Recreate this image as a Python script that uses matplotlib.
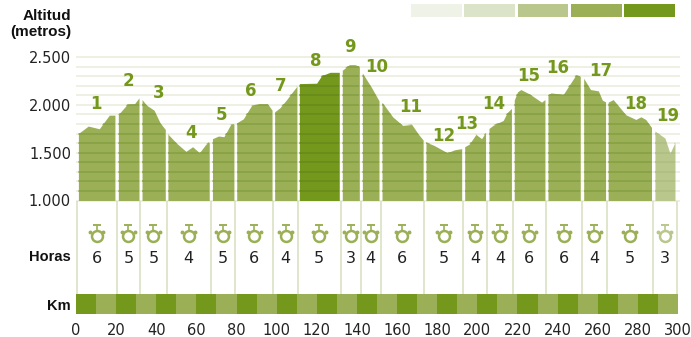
import matplotlib

matplotlib.use("Agg")
import matplotlib.pyplot as plt

plt.rcParams["font.family"] = ["DejaVu Sans"]

W, H = 691, 337
DARK, MID, LIGHT = "#73981b", "#9bb056", "#b9c78d"
GRID = "#e9ecdb"
LABEL_FONT = ["Liberation Sans", "DejaVu Sans"]

# km / altitude per stage
stage_km = [
    [1.2, 6.1, 11.6, 16.6, 19.4],
    [21.1, 25.6, 29.1, 31.4],
    [32.9, 35.2, 38.9, 41.9, 44.5],
    [45.8, 50.2, 54.8, 58.1, 61.5, 64.8, 66.4],
    [68, 71, 73.7, 77.1, 78.7],
    [80.1, 83.4, 87.5, 91.7, 95.5, 97.7],
    [99, 101.6, 105, 107.5, 110.1],
    [111.3, 119.9, 122.4, 126.6, 131.2],
    [132.7, 136.2, 139, 141.2],
    [142.7, 147.3, 151],
    [152.5, 157.8, 162.8, 167.3, 170.6, 173],
    [174.4, 178.4, 185, 188.8, 192.2],
    [193.7, 196, 199.3, 202.1, 204.1],
    [205.8, 208, 212.9, 214.9, 217],
    [218.4, 220, 221.7, 226.2, 232, 233.7],
    [235.2, 236.7, 242.8, 249.1, 251.3],
    [253, 256.4, 260.3, 262.3, 263.9],
    [265.2, 267.7, 274, 279, 281.5, 283.9, 286.8],
    [288.5, 293.5, 296, 298.5],
]
stage_alt = [
    [1701, 1778, 1750, 1892, 1892],
    [1899, 2007, 2010, 2073],
    [2055, 1996, 1944, 1812, 1743],
    [1694, 1597, 1514, 1562, 1500, 1590, 1611],
    [1646, 1674, 1667, 1795, 1799],
    [1812, 1854, 1993, 2010, 2010, 1944],
    [1927, 1969, 2055, 2125, 2194],
    [2222, 2226, 2305, 2340, 2340],
    [2361, 2420, 2420, 2403],
    [2333, 2180, 2042],
    [2028, 1875, 1785, 1795, 1694, 1632],
    [1611, 1576, 1500, 1531, 1542],
    [1562, 1590, 1691, 1646, 1712],
    [1753, 1788, 1837, 1920, 1962],
    [2049, 2135, 2160, 2111, 2028, 2055],
    [2101, 2125, 2108, 2312, 2299],
    [2278, 2160, 2146, 2049, 2031],
    [2028, 2055, 1896, 1847, 1875, 1847, 1764],
    [1726, 1653, 1493, 1608],
]
stage_level = [3, 3, 3, 3, 3, 3, 3, 4, 3, 3, 3, 3, 3, 3, 3, 3, 3, 3, 2]
stage_hours = [6, 5, 5, 4, 5, 6, 4, 5, 3, 4, 6, 5, 4, 4, 6, 6, 4, 5, 3]
stage_bounds = [0.5, 20.3, 32, 45.2, 67.1, 79.2, 98.3, 110.6, 131.9, 142, 151.8,
                173.5, 192.8, 204.9, 217.6, 234.3, 252.1, 264.4, 287.3, 299.3]
label_km = [10, 26, 41, 57.3, 72.3, 87.2, 102.1, 119.6, 136.5, 150, 166.9, 183.3,
            194.8, 208.3, 225.7, 240.2, 261.6, 279, 295]
label_alt = [2010, 2250, 2124, 1706, 1894, 2145, 2198, 2459, 2606, 2396, 1978, 1675,
             1800, 2009, 2302, 2386, 2355, 2004, 1884]
alt_ticks = [1000, 1500, 2000, 2500]
alt_labels = ["1.000", "1.500", "2.000", "2.500"]
km_ticks = list(range(0, 301, 20))
level_colors = ["#eff2e6", "#dbe3c8", LIGHT, MID, DARK]
over_colors = {2: "#aebd80", 3: "#86a043", 4: "#68891a"}


def px_axes(fig, left, top, right, bottom):
    return fig.add_axes([left / W, 1 - bottom / H, (right - left) / W, (bottom - top) / H])


fig = plt.figure(figsize=(W / 100, H / 100), dpi=100)

# altitude panel
ax = px_axes(fig, 76, 57, 678, 200.5)
ax.set_xlim(0, 300)
ax.set_ylim(1000, 2500)
grid_levels = list(range(1000, 2501, 100))
ax.hlines(grid_levels, 0, 301, color=GRID, lw=1.1, zorder=1, clip_on=False)
for km, alt, level in zip(stage_km, stage_alt, stage_level):
    poly = ax.fill_between(km, 1000, alt, color=level_colors[level], lw=0, zorder=2)
    over = ax.hlines(grid_levels[1:], km[0], km[-1], color=over_colors[level], lw=1.1, zorder=3)
    over.set_clip_path(poly.get_paths()[0], ax.transData)
for i, (x, y) in enumerate(zip(label_km, label_alt)):
    ax.text(x, y, str(i + 1), color=DARK, fontsize=12, fontweight="bold",
            ha="center", va="center", clip_on=False, zorder=5)
ax.set_xticks([])
ax.set_yticks(alt_ticks, alt_labels, fontsize=10.5, color="#222222")
ax.tick_params(axis="y", length=0, pad=3.6)
for s in ax.spines.values():
    s.set_visible(False)
ax.patch.set_alpha(0)

# hours panel
ax_h = px_axes(fig, 76, 200.5, 678, 294)
ax_h.set_xlim(0, 300)
ax_h.set_ylim(0, 1)
ax_h.vlines(stage_bounds, 0, 1, color="#d6dfbd", lw=1.1)
for i, hours in enumerate(stage_hours):
    x = (stage_bounds[i] + stage_bounds[i + 1]) / 2
    color = LIGHT if stage_level[i] == 2 else MID
    ax_h.scatter([x], [0.62], s=62, marker="o", facecolor="white", edgecolor=color, linewidth=1.8, zorder=3)
    ax_h.plot([x, x], [0.66, 0.73], color=color, lw=1.2, zorder=2)
    ax_h.plot([x], [0.735], marker="_", ms=6, mew=1.4, color=color, zorder=3)
    ax_h.plot([x - 3.2, x + 3.2], [0.665, 0.665], ls="none", marker="o", ms=1.8, color=color, zorder=2)
    ax_h.text(x, 0.385, str(hours), fontsize=11.5, color="#222222", ha="center", va="center")
ax_h.text(-2.5, 0.395, "Horas", fontsize=10.5, fontweight="bold", ha="right", va="center",
          color="#111111", family=LABEL_FONT)
ax_h.axis("off")

# km strip
ax_k = px_axes(fig, 76, 294, 678, 314)
ax_k.set_xlim(0, 300)
ax_k.set_ylim(0, 1)
starts = list(range(0, 300, 10))
ax_k.bar(starts, [1] * len(starts), width=10, align="edge", lw=0,
         color=[DARK if i % 2 == 0 else MID for i in range(len(starts))])
ax_k.set_yticks([0.5], ["Km"], fontsize=10.5, fontweight="bold", color="#111111", family=LABEL_FONT)
ax_k.set_xticks(km_ticks, [str(k) for k in km_ticks], fontsize=10.5, color="#222222")
ax_k.tick_params(axis="both", length=0)
ax_k.tick_params(axis="x", pad=6.5)
ax_k.tick_params(axis="y", pad=3.6)
for s in ax_k.spines.values():
    s.set_visible(False)

# difficulty legend
ax_l = px_axes(fig, 411, 4, 675, 17)
ax_l.bar(range(5), [1] * 5, width=0.95, color=level_colors, lw=0)
ax_l.set_xlim(-0.475, 4.475)
ax_l.set_ylim(0, 1)
ax_l.axis("off")

fig.text(71 / W, 1 - 16 / H, "Altitud", fontsize=11, fontweight="bold", ha="right", va="center",
         color="#111111", family=LABEL_FONT)
fig.text(71 / W, 1 - 32 / H, "(metros)", fontsize=11, fontweight="bold", ha="right", va="center",
         color="#111111", family=LABEL_FONT)

fig.savefig("out.png", dpi=100)
plt.close(fig)
